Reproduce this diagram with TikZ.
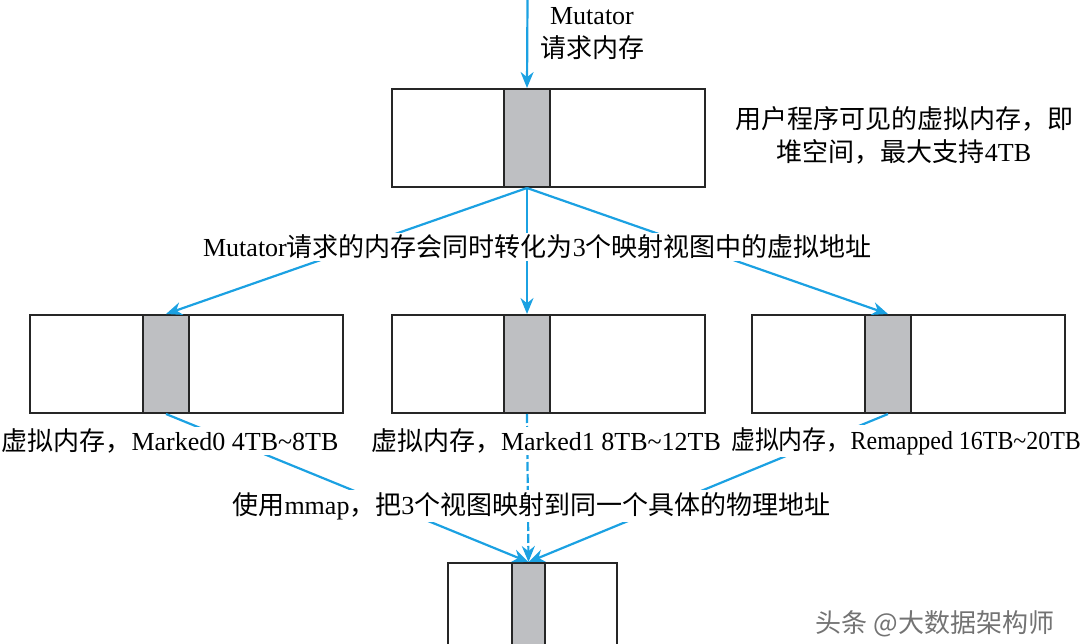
\documentclass[tikz,border=0pt]{standalone}
\usepackage{fontspec}
\setmainfont{Liberation Serif}
\newfontfamily\cjk{Noto Sans CJK SC}
\usetikzlibrary{positioning,arrows.meta}
\definecolor{mapblue}{RGB}{27,161,226}
\definecolor{pagegray}{RGB}{190,191,194}
\newcommand{\zh}[1]{{\cjk #1}}

\begin{document}
\begin{tikzpicture}[x=1pt,y=-1pt,line width=2pt,
                    font=\fontsize{26}{33}\selectfont]
      \tikzstyle{heap}=[draw=black!85,fill=white,inner sep=0pt,minimum width=313pt,minimum height=98pt]
      \tikzstyle{page}=[draw=black!85,fill=pagegray,inner sep=0pt,minimum width=46pt,minimum height=98pt]
      \tikzstyle{mapline}=[draw=mapblue,line width=2.2pt,-{Stealth[length=16pt,width=13pt]}]
      \tikzstyle{note}=[fill=white,inner sep=2pt,align=center]

      \useasboundingbox (0,0) rectangle (1080,644);

      \node[heap]                          (heap)     at (548.5,138)      {};
      \node[heap]                          (marked1)  [below=126pt of heap]    {};
      \node[heap]                          (marked0)  [left=47pt of marked1]   {};
      \node[heap]                          (remapped) [right=45pt of marked1]  {};
      \node[heap,minimum width=169pt]      (phys)     at (532.5,612)      {};

      \node[page]                          (heappage) [right=112pt of heap.west]     {};
      \node[page]                          (m0page)   [right=113pt of marked0.west]  {};
      \node[page]                          (m1page)   [right=112pt of marked1.west]  {};
      \node[page]                          (rmpage)   [right=113pt of remapped.west] {};
      \node[page,minimum width=33pt]       (physpage) [right=64pt of phys.west]      {};

      \coordinate (req) at (527.5,0);

      \draw[mapline] (req) -- (heappage.north);
      \path (heappage.south) edge [mapline] (m0page.north)
                             edge [mapline] (m1page.north)
                             edge [mapline] (rmpage.north)
        (m0page.south) edge [mapline] (physpage.north)
        (m1page.south) edge [mapline,dash pattern=on 9pt off 3pt] (physpage.north)
        (rmpage.south) edge [mapline] (physpage.north)
        ;

      \node[note] (reqlabel)  at (592,34)    {Mutator\\\zh{请求内存}};
      \node[note] (heaplabel) at (904,135)   {\zh{用户程序可见的虚拟内存，即}\\\zh{堆空间，最大支持}4TB};
      \node[note] (maplabel)  at (537.5,247) {Mutator\zh{请求的内存会同时转化为}3\zh{个映射视图中的虚拟地址}};
      \node[note] (m0label)   at (170,441)   {\zh{虚拟内存，}Marked0 4TB\textasciitilde 8TB};
      \node[note] (m1label)   at (546,441)   {\zh{虚拟内存，}Marked1 8TB\textasciitilde 12TB};
      \node[note,xscale=0.92,transform shape]
                  (rmlabel)   at (906,441)   {\zh{虚拟内存，}Remapped 16TB\textasciitilde 20TB};
      \node[note] (mmaplabel) at (531.5,506) {\zh{使用}mmap\zh{，把}3\zh{个视图映射到同一个具体的物理地址}};
      \node[text=black!55] (mark) at (935,624) {\zh{头条 @大数据架构师}};
\end{tikzpicture}
\end{document}
